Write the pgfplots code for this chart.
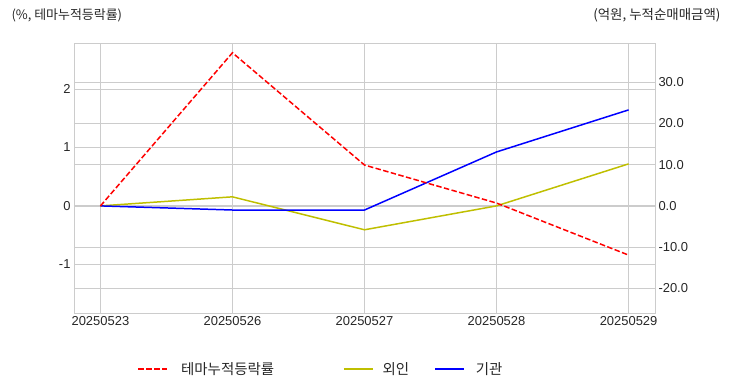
\documentclass[border=0pt]{standalone}
\usepackage{pgfplots}
\pgfplotsset{compat=1.18}
\usepackage{fontspec}
\setmainfont{Liberation Sans}
\newfontfamily\kr{Noto Sans CJK KR}
\definecolor{gridc}{RGB}{204,204,204}
\definecolor{tickc}{RGB}{38,38,38}
\definecolor{oliveY}{rgb}{0.75,0.75,0}
\begin{document}
\begin{tikzpicture}
\useasboundingbox (0,0) rectangle (732bp,392bp);
\pgfplotsset{
 every axis/.append style={
  scale only axis, width=581bp, height=269bp, at={(74bp,79bp)}, anchor=south west,
  xmin=-0.2, xmax=4.2,
  tick style={draw=none},
  grid style={gridc, line width=0.8pt},
  axis line style={gridc, line width=1pt},
  ticklabel style={font=\fontsize{13}{15}\selectfont, text=tickc},
 }}
% left axis: grid, ticks
\begin{axis}[
 ymin=-1.83, ymax=2.77,
 ytick={-1,0,1,2}, yticklabels={-1,0,1,2},
 xtick={0,1,2,3,4}, xticklabels={20250523,20250526,20250527,20250528,20250529},
 grid=major,
]
\addplot[draw=none] coordinates {(0,0)};
\end{axis}
% right axis
\begin{axis}[
 ymin=-26, ymax=39.3,
 axis y line*=right, axis x line=none,
 ytick={-20,-10,0,10,20,30}, yticklabels={-20.0,-10.0,0.0,10.0,20.0,30.0},
 ymajorgrids,
 legend columns=3,
 legend image code/.code={\draw[#1] (0bp,0bp) -- (29bp,0bp);},
 legend style={draw=none, fill=none, at={(0.4234,-0.208)}, anchor=center,
   font=\kr\fontsize{14.5}{16}\selectfont, text=tickc, inner sep=0pt,
   nodes={inner sep=0pt},
   /tikz/column 1/.style={column sep=13bp},
   /tikz/column 2/.style={column sep=69bp},
   /tikz/column 3/.style={column sep=9bp},
   /tikz/column 4/.style={column sep=25bp},
   /tikz/column 5/.style={column sep=11bp}},
]
\addlegendimage{red, line width=1.5pt, dash pattern=on 5.5bp off 2.4bp}
\addlegendentry{테마누적등락률}
\addplot[oliveY, line width=1.5pt] coordinates {(0,0)(1,2.2)(2,-5.8)(3,0)(4,10.2)};
\addlegendentry{외인}
\addplot[blue, line width=1.5pt] coordinates {(0,0)(1,-1.0)(2,-1.0)(3,13.1)(4,23.3)};
\addlegendentry{기관}
\end{axis}
% red series on left scale
\begin{axis}[
 ymin=-1.83, ymax=2.77, hide axis,
]
\addplot[red, line width=1.5pt, dash pattern=on 5.5bp off 2.4bp] coordinates {(0,0)(1,2.62)(2,0.70)(3,0.05)(4,-0.84)};
\end{axis}
\node[anchor=west, font=\kr\fontsize{13}{15}\selectfont, text=tickc] at (8bp,377bp) {(\%, 테마누적등락률)};
\node[anchor=east, font=\kr\fontsize{13.5}{15}\selectfont, text=tickc] at (724bp,377bp) {(억원, 누적순매매금액)};
\end{tikzpicture}
\end{document}
